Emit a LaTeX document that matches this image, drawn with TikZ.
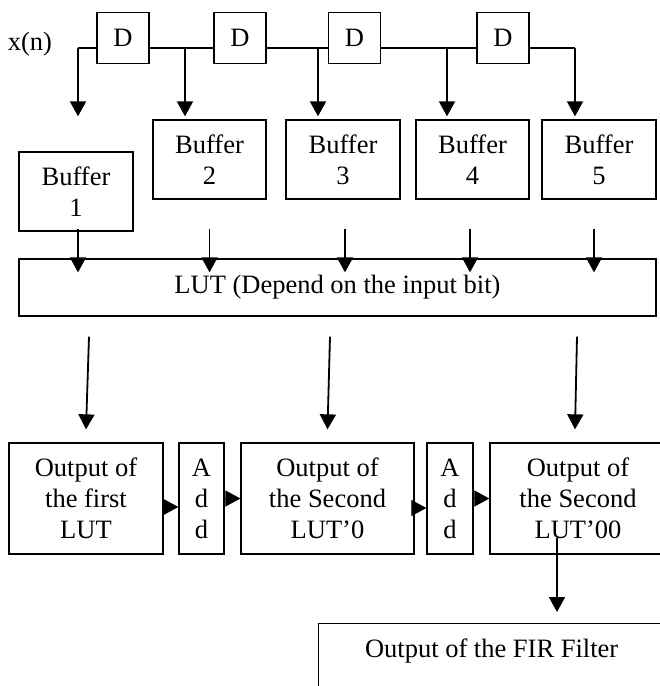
\documentclass[tikz,border=0pt]{standalone}
\usepackage{fontspec}
\setmainfont{Liberation Serif}
\usetikzlibrary{arrows.meta,calc}
\begin{document}
\begin{tikzpicture}[x=1pt,y=-1pt,
  box/.style={draw, line width=1.3pt, inner sep=0pt, align=center, font=\fontsize{26.5}{31}\selectfont},
  conn/.style={line width=1.8pt},
  arr/.style={line width=1.8pt, -{Triangle[width=16pt,length=15pt]}},
  headonly/.style={line width=1pt, -{Triangle[width=16pt,length=15pt]}},
  txt/.style={font=\fontsize{26.5}{31}\selectfont, inner sep=0pt}]
\useasboundingbox (0,0) rectangle (660,686);
\clip (0,0) rectangle (660,686);
% delay chain
\node[txt] (xn) at (30,44) {x(n)};
\node[box, minimum width=52pt, minimum height=51pt] (d1) at (123,38) {D};
\node[box, minimum width=52pt, minimum height=51pt] (d2) at (240,38) {D};
\node[box, minimum width=52pt, minimum height=51pt] (d3) at (354.5,38) {D};
\node[box, minimum width=52pt, minimum height=51pt] (d4) at (503,38) {D};
% buffers
\node[box, minimum width=114pt, minimum height=79pt] (b1) at (76,191.5) {Buffer\\1};
\node[box, minimum width=113pt, minimum height=79pt] (b2) at (209.5,159.5) {Buffer\\2};
\node[box, minimum width=114pt, minimum height=79pt] (b3) at (343,159.5) {Buffer\\3};
\node[box, minimum width=113pt, minimum height=79pt] (b4) at (472.5,159.5) {Buffer\\4};
\node[box, minimum width=114pt, minimum height=79pt] (b5) at (599,159.5) {Buffer\\5};
% LUT
\node[box, minimum width=637pt, minimum height=57pt] (lut) at (337.5,287.5) {LUT (Depend on the input bit)};
% bottom row
\node[box, minimum width=154pt, minimum height=111pt] (o1) at (86,498.5) {Output of\\the first\\LUT};
\node[box, minimum width=45pt, minimum height=111pt] (a1) at (201.5,498.5) {A\\d\\d};
\node[box, minimum width=173pt, minimum height=111pt] (o2) at (327.5,498.5) {Output of\\the Second\\LUT’0};
\node[box, minimum width=46pt, minimum height=111pt] (a2) at (450,498.5) {A\\d\\d};
\node[box, minimum width=176pt, minimum height=111pt] (o3) at (578,498.5) {Output of\\the Second\\LUT’00};
% FIR output
\node[box, anchor=north west, minimum width=346pt, minimum height=90pt] (fir) at (318,623) {};
\node[txt] (firt) at ($(fir.north)+(0,28)$) {Output of the FIR Filter};
% junctions on the delay line
\coordinate (j1) at (78,48);
\coordinate (j2) at (185,48);
\coordinate (j3) at (318,48);
\coordinate (j4) at (447,48);
\coordinate (j5) at (575,48);
\draw[conn] (d1.west |- j1) -- (j1);
\draw[conn] (d1.east |- j2) -- (d2.west |- j2);
\draw[conn] (d2.east |- j3) -- (d3.west |- j3);
\draw[conn] (d3.east |- j4) -- (d4.west |- j4);
\draw[conn] (d4.east |- j5) -- (j5);
\draw[arr, shorten >=3pt] (j1) -- (j1 |- b2.north);
\draw[arr, shorten >=3pt] (j2) -- (j2 |- b2.north);
\draw[arr, shorten >=3pt] (j3) -- (j3 |- b2.north);
\draw[arr, shorten >=3pt] (j4) -- (j4 |- b2.north);
\draw[arr, shorten >=3pt] (j5) -- (j5 |- b2.north);
% buffers to LUT
\coordinate (s1) at ($(b1.south)+(2,-3)$);
\coordinate (s2) at ($(b2.south)+(0,29)$);
\coordinate (s3) at ($(b3.south)+(2,29)$);
\coordinate (s4) at ($(b4.south)+(-2.5,29)$);
\coordinate (s5) at ($(b5.south)+(-5,29)$);
\foreach \s in {s1,s2,s3,s4,s5}
  \draw[arr, shorten >=-14pt] (\s) -- (\s |- lut.north);
% LUT to outputs
\coordinate (l1) at ($(o1.north |- lut.south)+(3,20)$);
\coordinate (l2) at ($(o2.north |- lut.south)+(2.5,20)$);
\coordinate (l3) at ($(o3.north |- lut.south)+(-1,20)$);
\draw[arr] (l1) -- ([yshift=13pt]o1.north);
\draw[arr] (l2) -- ([yshift=13pt]o2.north);
\draw[arr] (l3) -- ([xshift=-3pt,yshift=13pt]o3.north);
% adders
\draw[headonly] ([yshift=-8.5pt]o1.east) -- ([yshift=-8.5pt]a1.west);
\draw[headonly] (a1.east) -- (o2.west);
\draw[headonly] ([yshift=-9.5pt]o2.east) -- ([yshift=-9.5pt]a2.west);
\draw[headonly] (a2.east) -- (o3.west);
% final output
\coordinate (f1) at ($(o3.south)+(-21,-17)$);
\draw[arr, shorten >=11pt] (f1) -- (f1 |- fir.north);
\end{tikzpicture}
\end{document}
